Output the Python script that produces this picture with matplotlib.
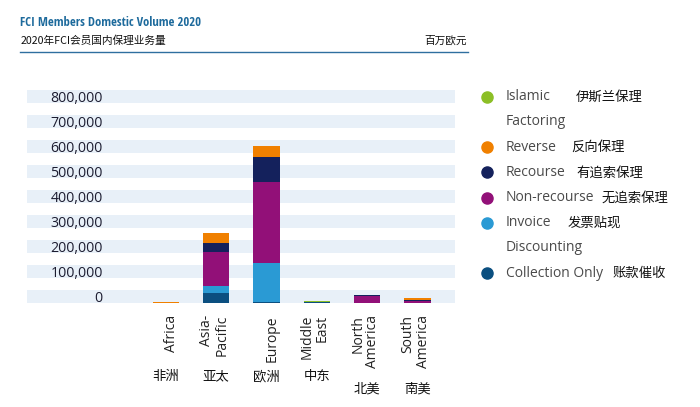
import matplotlib
matplotlib.use("Agg")
import matplotlib.pyplot as plt
from matplotlib.lines import Line2D
from matplotlib import transforms
from matplotlib import font_manager as fm

# ---------------- data ----------------
categories_en = ["Africa", "Asia-\nPacific", "Europe", "Middle\nEast", "North\nAmerica", "South\nAmerica"]
categories_cn = ["非洲", "亚太", "欧洲", "中东", "北美", "南美"]

collection_only = [0, 39000, 4000, 3000, 0, 0]
invoice_discounting = [0, 29000, 156000, 0, 0, 0]
non_recourse = [0, 136000, 321600, 0, 27000, 7000]
recourse = [0, 36000, 100000, 0, 3500, 5000]
reverse = [4000, 37600, 46400, 0, 0, 8000]
islamic = [0, 0, 0, 5000, 0, 0]

y_ticks = [0, 100000, 200000, 300000, 400000, 500000, 600000, 700000, 800000]

series_names_en = ["Islamic\nFactoring", "Reverse", "Recourse", "Non-recourse", "Invoice\nDiscounting", "Collection Only"]
series_names_cn = ["伊斯兰保理", "反向保理", "有追索保理", "无追索保理", "发票贴现", "账款催收"]

title_en = "FCI Members Domestic Volume 2020"
title_cn = "2020年FCI会员国内保理业务量"
unit_cn = "百万欧元"

# ---------------- style ----------------
colors = {
    "collection": "#0b4f80",
    "invoice": "#2a9ad4",
    "nonrec": "#921078",
    "recourse": "#14215c",
    "reverse": "#f08000",
    "islamic": "#8cbf26",
}
legend_colors = [colors["islamic"], colors["reverse"], colors["recourse"],
                 colors["nonrec"], colors["invoice"], colors["collection"]]
band_color = "#e8f0f8"
LATIN = ["Open Sans", "Noto Sans CJK SC", "DejaVu Sans"]
CJK = ["Noto Sans CJK SC", "DejaVu Sans"]


def pick_condensed():
    for fam in ["Liberation Sans Narrow", "Open Sans Condensed", "Roboto Condensed", "DejaVu Sans Condensed"]:
        try:
            fm.findfont(fm.FontProperties(family=fam, weight="bold"), fallback_to_default=False)
            return dict(family=[fam, "DejaVu Sans"])
        except Exception:
            pass
    try:
        f = fm.findfont(fm.FontProperties(family="DejaVu Sans", weight="bold", stretch="condensed"),
                        fallback_to_default=False)
        if "ondensed" in f:
            return dict(family=["DejaVu Sans"], fontstretch="condensed")
    except Exception:
        pass
    return dict(family=LATIN)


W, H = 700, 407
fig = plt.figure(figsize=(W / 100, H / 100), dpi=100)
fig.patch.set_facecolor("white")

def fx(px):
    return px / W

def fy(py):
    return 1 - py / H

# axes region
ax_left, ax_right = 27, 455
ax_top, ax_bottom = 89.3, 302.7
ax = fig.add_axes([fx(ax_left), fy(ax_bottom), (ax_right - ax_left) / W, (ax_bottom - ax_top) / H])
ax.set_facecolor("white")
for s in ax.spines.values():
    s.set_visible(False)
ax.set_xticks([])
ax.set_yticks([])

ymax = 853600
ax.set_ylim(0, ymax)
ax.set_xlim(-2.76, 5.745)

for v in y_ticks:
    ax.axhspan(v, v + 52000, color=band_color, lw=0, zorder=0)
    ax.text(0.177, v + 18000, f"{v:,}", transform=transforms.blended_transform_factory(ax.transAxes, ax.transData),
            ha="right", va="center", fontsize=10.2, color="#1c1c30", family=LATIN)

x = list(range(len(categories_en)))
width = 0.52
stack = [
    (collection_only, colors["collection"]),
    (invoice_discounting, colors["invoice"]),
    (non_recourse, colors["nonrec"]),
    (recourse, colors["recourse"]),
    (reverse, colors["reverse"]),
    (islamic, colors["islamic"]),
]
bottom = [0] * len(x)
for vals, c in stack:
    ax.bar(x, vals, width=width, bottom=bottom, color=c, lw=0, zorder=2)
    bottom = [b + v for b, v in zip(bottom, vals)]

# x labels
blend = transforms.blended_transform_factory(ax.transData, fig.transFigure)
en_texts = []
for i, lab in enumerate(categories_en):
    t = ax.text(i + width / 2, fy(315), lab, transform=blend, rotation=90, ha="right", va="top",
                multialignment="right", fontsize=10, color="#222222", family=LATIN, linespacing=1.0)
    en_texts.append(t)

# header
tkw = pick_condensed()
title = fig.text(fx(20.5), fy(23), title_en, ha="left", va="center", fontsize=10, fontweight="bold",
                 color="#1d6a9c", **tkw)
fig.text(fx(20.5), fy(40.5), title_cn, ha="left", va="center", fontsize=7.7, color="#111111", family=CJK)
fig.text(fx(467), fy(40.5), unit_cn, ha="right", va="center", fontsize=7.7, color="#111111", family=CJK)
fig.add_artist(Line2D([fx(20), fx(468)], [fy(51.7), fy(51.7)], transform=fig.transFigure,
                      color="#2f6f9f", lw=1.0))

fig.canvas.draw()
renderer = fig.canvas.get_renderer()
# fit the title to its width in the reference
tw = title.get_window_extent(renderer).width
title.set_fontsize(10 * 179.5 / tw)

for i, (t, lab) in enumerate(zip(en_texts, categories_cn)):
    ext = t.get_window_extent(renderer)
    bottom_px = H - ext.y0
    cy = 376 if bottom_px < 363 else 389
    ax.text(i, fy(cy), lab, transform=blend, ha="center", va="center",
            fontsize=9.6, color="#111111", family=CJK)

# legend
legend_cn_x = [576, 571.7, 576, 601.7, 567.3, 612.7]
line_y = 96.7
step = 25.2
for name_en, name_cn, c, cnx in zip(series_names_en, series_names_cn, legend_colors, legend_cn_x):
    fig.add_artist(Line2D([fx(486.7)], [fy(line_y)], transform=fig.transFigure, marker="o",
                          markersize=8, markerfacecolor=c, markeredgecolor=c, lw=0))
    lines = name_en.split("\n")
    for k, ln in enumerate(lines):
        fig.text(fx(505.7), fy(line_y + k * step), ln, ha="left", va="center", fontsize=10,
                 color="#4a4a4a", family=LATIN)
    fig.text(fx(cnx), fy(line_y), name_cn, ha="left", va="center", fontsize=9.6,
             color="#111111", family=CJK)
    line_y += step * len(lines)

fig.savefig("out.png", dpi=100, facecolor="white")
